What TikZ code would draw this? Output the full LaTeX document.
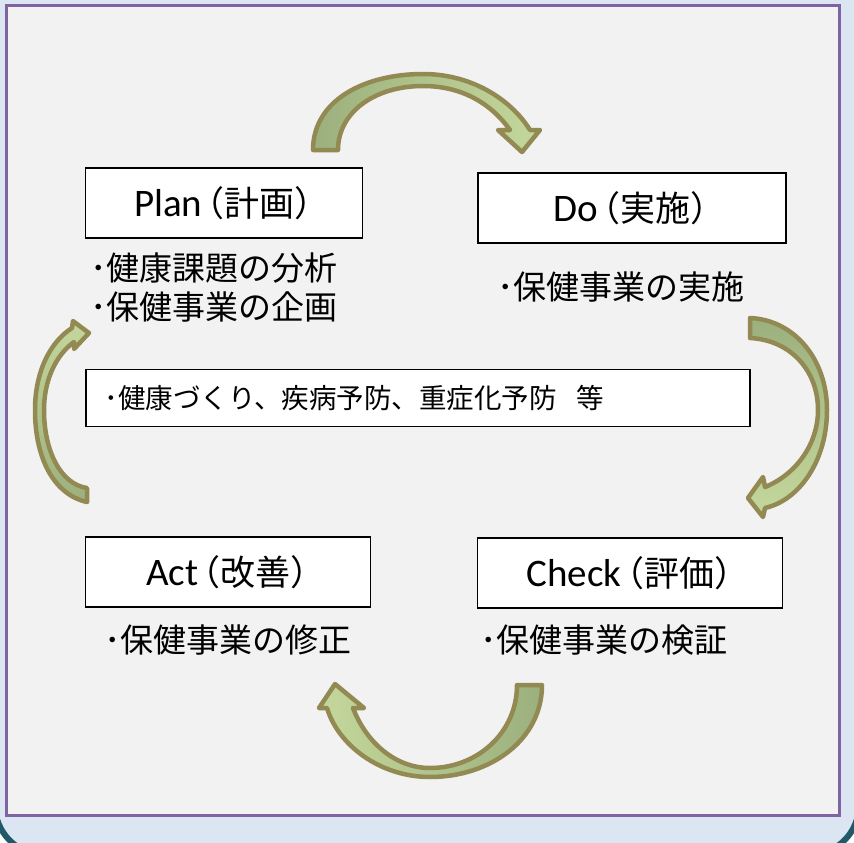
\documentclass[tikz,border=0pt]{standalone}
\usepackage{fontspec}
\setmainfont{Carlito}
\newfontfamily\jpfont{Noto Sans CJK JP}
\definecolor{bgblue}{HTML}{DCE6F2}
\definecolor{frameteal}{HTML}{215968}
\definecolor{panelgray}{HTML}{F2F2F2}
\definecolor{panelpurple}{HTML}{8064A2}
\definecolor{arrowline}{HTML}{938953}
\definecolor{arrowdark}{HTML}{9CB07E}
\definecolor{arrowlight}{HTML}{C4D79B}
% Latin name followed by the Japanese name in brackets
\newcommand{\phasename}[2]{#1{\jpfont\fontsize{35}{40}\selectfont\kern-0.36em（#2）\kern-0.45em}}

\begin{document}
\begin{tikzpicture}[x=1pt, y=-1pt,
    phase/.style={draw=black, line width=1.8pt, fill=white, minimum height=70pt,
      inner sep=0pt, font=\fontsize{39}{44}\selectfont},
    task/.style={anchor=east, inner sep=0pt, font=\jpfont\fontsize{33}{38}\selectfont},
    cycarrow/.style={draw=arrowline, line width=4.5pt, line join=round}]
    \useasboundingbox (0,0) rectangle (854,843);
    \clip (0,0) rectangle (854,843);

    % Background and frame
    \fill[white] (0,0) rectangle (854,843);
    \draw[fill=bgblue, draw=frameteal, line width=6pt, rounded corners=50pt]
      (-5,-100) rectangle (859,855);
    \draw[fill=panelgray, draw=panelpurple, line width=3pt] (6.5,6) rectangle (839,815);

    % Phase boxes
    \node[phase, minimum width=277pt] (plan) at (224,203) {\phasename{Plan}{計画}};
    \node[phase, minimum width=308pt] (do) at (632,208) {\phasename{Do}{実施}};
    \node[phase, minimum width=285pt] (act) at (228,572) {\phasename{Act}{改善}};
    \node[phase, minimum width=305pt] (check) at (630,573) {\phasename{Check}{評価}};

    % Tasks under each phase
    \node[task] (plan1) at (338,268) {･健康課題の分析};
    \node[task] (plan2) at (338,307) {･保健事業の企画};
    \node[task] (do1) at (745,287) {･保健事業の実施};
    \node[task] (act1) at (352,640) {･保健事業の修正};
    \node[task] (check1) at (728,640) {･保健事業の検証};

    % Goals in the middle
    \node[draw, line width=1.8pt, fill=white, minimum width=664pt, minimum height=57pt,
      inner sep=0pt] (goal) at (418,398) {};
    \node[anchor=west, inner sep=0pt, font=\jpfont\fontsize{27.5}{31}\selectfont] (goaltext)
      at ([xshift=19pt]goal.west) {･健康づくり、疾病予防、重症化予防\hspace{20pt}等};

    % Plan -> Do
    \draw[cycarrow, left color=arrowdark, right color=arrowlight]
      (313,150) .. controls (313,100) and (365,74) .. (423,74)
      .. controls (470,74) and (510,98) .. (530,130)
      -- (540,130) -- (522,152) -- (498,130) -- (510,130)
      .. controls (490,102) and (460,86) .. (423,86)
      .. controls (375,86) and (338,112) .. (338,150) -- cycle;

    % Do -> Check
    \draw[cycarrow, top color=arrowdark, bottom color=arrowlight]
      (750,318) .. controls (795,320) and (827,360) .. (827,410)
      .. controls (827,460) and (800,500) .. (765,508)
      -- (763,517) -- (748,498) -- (763,477) -- (765,487)
      .. controls (795,475) and (818,445) .. (818,410)
      .. controls (818,370) and (790,340) .. (750,338) -- cycle;

    % Check -> Act
    \draw[cycarrow, left color=arrowlight, right color=arrowdark]
      (542,685) .. controls (542,740) and (490,777) .. (430,777)
      .. controls (380,777) and (338,745) .. (327,708)
      -- (319,708) -- (335,684) -- (364,708) -- (353,708)
      .. controls (366,742) and (395,768) .. (430,768)
      .. controls (478,768) and (517,732) .. (517,685) -- cycle;

    % Act -> Plan
    \draw[cycarrow, top color=arrowlight, bottom color=arrowdark]
      (87,502) .. controls (55,495) and (35,460) .. (35,410)
      .. controls (35,372) and (50,342) .. (72,328)
      -- (73,321) -- (89,333) -- (74,349) -- (74,342)
      .. controls (56,355) and (44,380) .. (44,410)
      .. controls (44,450) and (60,484) .. (87,488) -- cycle;
\end{tikzpicture}
\end{document}
